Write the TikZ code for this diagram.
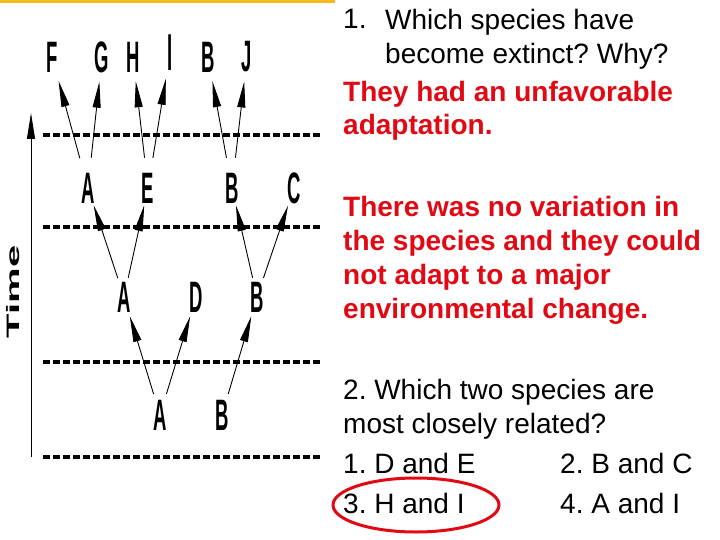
\documentclass[tikz,border=0pt]{standalone}
\usepackage{fontspec}
\setmainfont{Liberation Sans}
\usetikzlibrary{arrows.meta}
\definecolor{goldbar}{RGB}{245,185,30}
\definecolor{ansred}{RGB}{225,10,20}
\newcommand{\spc}[1]{\scalebox{0.42}[1]{\fontsize{44}{44}\selectfont\bfseries #1}}
\frenchspacing
\begin{document}
\frenchspacing
\begin{tikzpicture}[x=1pt,y=-1pt,
  spec/.style={inner sep=0pt},
  arr/.style={-{Triangle[length=26pt,width=8pt]}, line width=0.9pt},
  upA/.style={arr, shorten <=15pt, shorten >=9pt},
  upB/.style={arr, shorten <=4pt, shorten >=2pt},
  upC/.style={arr, shorten <=6pt, shorten >=4pt},
  gen/.style={line width=3.5pt, dash pattern=on 7pt off 3pt},
  txt/.style={anchor=base west, inner sep=0pt, font=\fontsize{28}{28}\selectfont},
  ans/.style={anchor=base west, inner sep=0pt, text=ansred, font=\bfseries\fontsize{28}{28}\selectfont}]
\useasboundingbox (0,0) rectangle (720,540);
\fill[white] (0,0) rectangle (720,540);
\fill[goldbar] (0,0) rectangle (335,3.5);

% time axis
\coordinate (tbot) at (31,457);
\coordinate (ttop) at (31,113);
\draw[arr] (tbot) -- (ttop);
\node[inner sep=0pt] (time) at (13.5,292) {\scalebox{0.45}[1]{\rotatebox{90}{\fontsize{40}{40}\selectfont\bfseries Time}}};

% generation lines
\foreach \yy in {135,227,362,457} \draw[gen] (43,\yy) -- (322,\yy);

% row 1
\node[spec] (F) at (52,57) {\spc{F}};
\node[spec] (G) at (102,57) {\spc{G}};
\node[spec] (H) at (133,57) {\spc{H}};
\node[spec] (I) at (170,53) {\scalebox{0.42}[1.18]{\fontsize{44}{44}\selectfont\bfseries I}};
\node[spec] (B1) at (208,57) {\spc{B}};
\node[spec] (J) at (247,57) {\spc{J}};
% row 2
\node[spec] (A2) at (88,188) {\spc{A}};
\node[spec] (E) at (148,188) {\spc{E}};
\node[spec] (B2) at (232,188) {\spc{B}};
\node[spec] (C) at (294,188) {\spc{C}};
% row 3
\node[spec] (A3) at (124,297) {\spc{A}};
\node[spec] (D) at (196,297) {\spc{D}};
\node[spec] (B3) at (257,297) {\spc{B}};
% row 4
\node[spec] (A4) at (160,415) {\spc{A}};
\node[spec] (B4) at (222,415) {\spc{B}};

% arrows
\draw[upA] (A2) -- (F);
\draw[upA] (A2) -- (G);
\draw[upA] (E) -- (H);
\draw[upA] (E) -- (I);
\draw[upA] (B2) -- (B1);
\draw[upA] (B2) -- (J);
\draw[upB] (A3) -- (A2);
\draw[upB] (A3) -- (E);
\draw[upB] (B3) -- (B2);
\draw[upB] (B3) -- (C);
\draw[upC] (A4) -- (A3);
\draw[upC] (A4) -- (D);
\draw[upC] (B4) -- (B3);

% texts
\node[txt] (q1n) at (343,29) {1.};
\node[txt] (q1a) at (385,30) {Which species have};
\node[txt] (q1b) at (385,64) {become extinct? Why?};
\node[ans] (a1a) at (343,102) {They had an unfavorable};
\node[ans] (a1b) at (343,135) {adaptation.};
\node[ans] (a2a) at (343,217) {There was no variation in};
\node[ans] (a2b) at (343,251) {the species and they could};
\node[ans] (a2c) at (343,284) {not adapt to a major};
\node[ans] (a2d) at (343,318) {environmental change.};
\node[txt] (q2a) at (343,399) {2. Which two species are};
\node[txt] (q2b) at (343,433) {most closely related?};
\node[txt] (o1) at (343,473) {1. D and E};
\node[txt] (o2) at (560,473) {2. B and C};
\node[txt] (o3) at (343,513) {3. H and I};
\node[txt] (o4) at (560,513) {4. A and I};

\draw[ansred, line width=3pt] (416,505) ellipse [x radius=83pt, y radius=27pt];
\end{tikzpicture}
\end{document}
